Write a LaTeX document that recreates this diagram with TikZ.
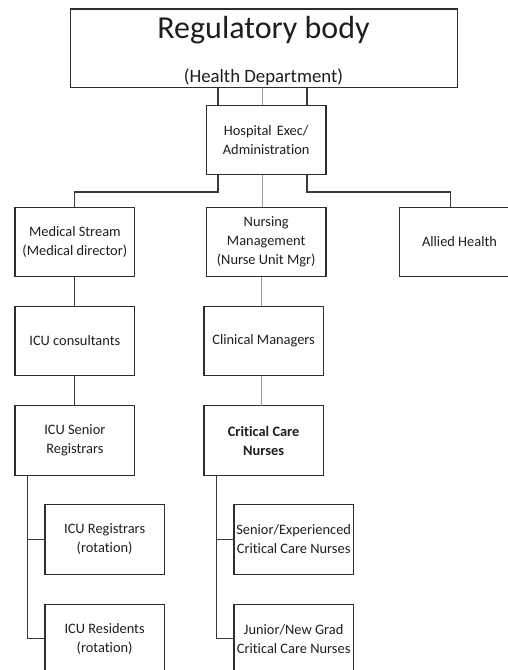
\documentclass[tikz,border=0pt]{standalone}
\usepackage{fontspec}
\setmainfont{Carlito}[Ligatures=NoCommon]
\usetikzlibrary{calc}
\definecolor{boxline}{HTML}{2E2E2E}
\definecolor{darklink}{HTML}{3A3A3A}
\definecolor{lightlink}{HTML}{9A9A9A}
\definecolor{ink}{HTML}{1E1E1E}
\tikzset{
  unit/.style={draw=boxline, line width=1.4pt, rectangle, inner sep=0pt, outer sep=0pt,
    minimum width=119.5pt, minimum height=69.5pt, align=center, text=ink,
    font=\fontsize{14.4}{19}\selectfont},
  link/.style={draw=darklink, line width=1.2pt},
  faint/.style={draw=lightlink, line width=0.7pt},
}
\begin{document}
\begin{tikzpicture}[x=1pt,y=-1pt]
\useasboundingbox (0,0) rectangle (508,670);
\clip (0,0) rectangle (508,670);

% top level body
\node[unit, minimum width=386.6pt, minimum height=78.7pt] (reg) at (264,48.35) {};
\node[anchor=base, text=ink, font=\fontsize{32}{36}\selectfont] (regtitle) at (263.5,38.3) {Regulatory body};
\node[anchor=base, text=ink, font=\fontsize{18.8}{22}\selectfont] (regsub) at (263.5,82.7) {(Health Department)};

% hospital and streams
\node[unit] (hosp) at (266.2,140) {Hospital\hspace{0.12em} Exec/\\Administration};
\node[unit] (med) at (74.85,242) {Medical Stream\\(Medical director)};
\node[unit] (nurs) at (266.2,242) {Nursing\\Management\\(Nurse Unit Mgr)};
\node[unit] (allied) at (459.5,242) {Allied Health};

% medical stream
\node[unit] (icuc) at (74.85,341) {ICU consultants};
\node[unit] (senreg) at (74.85,440.5) {ICU Senior\\Registrars};
\node[unit] (icureg) at (104.65,539.5) {ICU Registrars\\(rotation)};
\node[unit] (icures) at (104.65,639) {ICU Residents\\(rotation)};

% nursing stream
\node[unit] (clin) at (263.65,341) {Clinical Managers};
\node[unit, font=\fontsize{14.4}{19}\selectfont\bfseries] (ccn) at (263.65,440.5) {Critical Care\\Nurses};
\node[unit] (senexp) at (293.65,539.5) {Senior/Experienced\\Critical Care Nurses};
\node[unit] (junior) at (293.65,639) {Junior/New Grad\\Critical Care Nurses};

% drop points on the hospital box
\coordinate (hl) at ($(hosp.north west)+(11.6,0)$);
\coordinate (hm) at ($(hosp.north west)+(55.6,0)$);
\coordinate (hr) at ($(hosp.north east)+(-19,0)$);
\coordinate (hlb) at ($(hosp.south west)+(11.6,0)$);
\coordinate (hmb) at ($(hosp.south west)+(55.6,0)$);
\coordinate (hrb) at ($(hosp.south east)+(-19,0)$);
\coordinate (medtop) at ($(med.north west)+(59,0)$);
\coordinate (alltop) at ($(allied.north west)+(51,0)$);

% body to hospital
\draw[link] (hl |- reg.south) -- (hl);
\draw[faint] (hm |- reg.south) -- (hm);
\draw[link] (hr |- reg.south) -- (hr);

% hospital to streams
\draw[link] (hlb) -- ++(0,17.3) -| (medtop);
\draw[faint] (hmb) -- (hmb |- nurs.north);
\draw[link] (hrb) -- ++(0,17.3) -| (alltop);

% medical chain
\draw[link] (medtop |- med.south) -- (medtop |- icuc.north);
\draw[link] (medtop |- icuc.south) -- (medtop |- senreg.north);
\coordinate (sl) at ($(senreg.south west)+(12,0)$);
\draw[link] (sl) |- (icureg.west);
\draw[link] (sl) |- ([yshift=0.7pt]icures.west);

% nursing chain
\coordinate (nm) at ($(clin.north west)+(57.7,0)$);
\draw[faint] (nm |- nurs.south) -- (nm);
\draw[faint] (nm |- clin.south) -- (nm |- ccn.north);
\coordinate (cl) at ($(ccn.south west)+(12.7,0)$);
\draw[link] (cl) |- (senexp.west);
\draw[link] (cl) |- ([yshift=0.7pt]junior.west);
\end{tikzpicture}
\end{document}
